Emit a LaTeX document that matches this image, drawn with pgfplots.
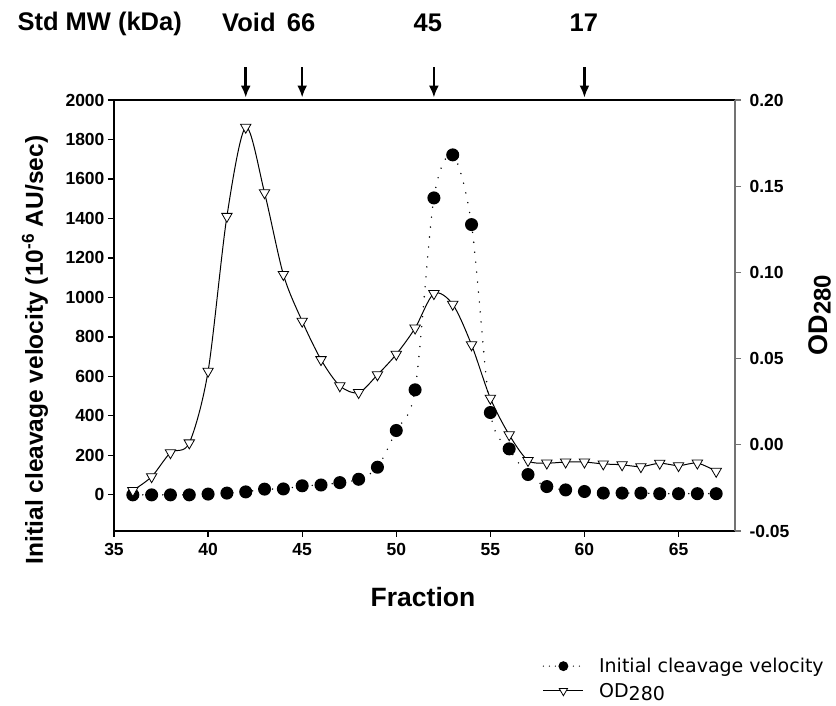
\documentclass[border=0pt]{standalone}
\usepackage{fontspec}
\setmainfont{Liberation Sans}
\newfontfamily\legfont{DejaVu Sans}
\usepackage{pgfplots}
\usepackage{pgfplotstable}
\pgfplotsset{compat=1.18}
\usetikzlibrary{arrows.meta}

% initial cleavage velocity (10^-6 AU/sec), left axis
\pgfplotstableread{
frac vel
36 0
37 0
38 0
39 0
40 4
41 9
42 15
43 29
44 30
45 46
46 50
47 62
48 79
49 140
50 326
51 532
52 1504
53 1722
54 1369
55 417
56 233
57 103
58 42
59 25
60 17
61 9
62 9
63 9
64 6
65 6
66 6
67 6
}\veltable

% OD280, right axis
\pgfplotstableread{
frac od
36 -0.0265
37 -0.0185
38 -0.0046
39 0.0011
40 0.0427
41 0.1325
42 0.1842
43 0.1462
44 0.0988
45 0.0717
46 0.0494
47 0.0342
48 0.0303
49 0.0406
50 0.0525
51 0.0677
52 0.0877
53 0.0815
54 0.0580
55 0.0270
56 0.0058
57 -0.0091
58 -0.0106
59 -0.0100
60 -0.0100
61 -0.0111
62 -0.0116
63 -0.0127
64 -0.0107
65 -0.0121
66 -0.0106
67 -0.0154
}\odtable

\pgfplotsset{
  fig/.style={
    width=621pt, height=431pt, scale only axis,
    at={(114pt,175pt)}, anchor=south west,
    xmin=35, xmax=68,
    tick align=outside, major tick length=6pt,
    ticklabel style={font=\bfseries\fontsize{17.5}{19}\selectfont},
    /pgf/number format/assume math mode=true,
    /pgf/number format/1000 sep={},
  },
}
\tikzset{
  toplab/.style={anchor=base, font=\bfseries\fontsize{25.5}{28}\selectfont},
  mwarrow/.style={line width=2.6pt, -{Latex[length=12pt,width=10pt]}},
}

\begin{document}
\begin{tikzpicture}
\path[use as bounding box] (0,0) rectangle (836pt,706pt);

\begin{axis}[fig,
  axis x line*=box, axis y line*=left,
  xtick={35,40,...,65}, xtick pos=left,
  xticklabel style={yshift=-3pt},
  ymin=-183, ymax=2000, ytick={0,200,...,2000},
  axis line style={line width=1.8pt},
  tick style={line width=1.2pt, black},
  clip=false]
\addplot[black, smooth, tension=0.5, line width=1.6pt, line cap=round,
  dash pattern=on 0pt off 10pt,
  mark=*, mark size=5.7pt, mark options={solid}]
  table[x=frac, y=vel] {\veltable};

\draw[mwarrow] (axis cs:42,2167) -- (axis cs:42,2012);
\draw[mwarrow] (axis cs:45,2167) -- (axis cs:45,2012);
\draw[mwarrow] (axis cs:52,2167) -- (axis cs:52,2012);
\draw[mwarrow] (axis cs:60,2167) -- (axis cs:60,2012);
\node[toplab] at (axis cs:42.17,2349) {Void};
\node[toplab] at (axis cs:44.94,2349) {66};
\node[toplab] at (axis cs:51.68,2349) {45};
\node[toplab] at (axis cs:59.97,2349) {17};
\end{axis}

\begin{axis}[fig,
  axis x line=none, axis y line*=right,
  ymin=-0.05, ymax=0.20,
  ytick={-0.05,0,0.05,0.10,0.15,0.20},
  yticklabels={-0.05,0.00,0.05,0.10,0.15,0.20},
  yticklabel style={xshift=5pt},
  y axis line style={black!55, line width=1.2pt},
  tick style={line width=1.2pt, black!55},
  legend style={draw=none, fill=none, inner sep=0pt, row sep=5pt,
    at={(axis description cs:0.69,-0.29)}, anchor=north west,
    font=\legfont\fontsize{19}{21}\selectfont,
    /tikz/every odd column/.append style={column sep=13pt}},
  legend cell align=left,
  legend image code/.code={\draw[mark repeat=2, mark phase=2, #1]
    plot coordinates {(0pt,0pt) (20pt,0pt) (40pt,0pt)};}]
\addlegendimage{black, line width=1.4pt, line cap=round,
  dash pattern=on 0pt off 6pt, mark=*, mark size=4.2pt, mark options={solid}}
\addlegendentry{Initial cleavage velocity}
\addlegendimage{black, line width=1pt, mark=triangle*, mark size=4.8pt,
  mark options={fill=white, rotate=180, line width=0.8pt}}
\addlegendentry{OD\raisebox{-0.3ex}{280}}
\addplot[black, smooth, tension=0.5, line width=1pt, forget plot,
  mark=triangle*, mark size=6pt,
  mark options={solid, fill=white, rotate=180, line width=0.8pt}]
  table[x=frac, y=od] {\odtable};
\end{axis}

\node[anchor=base west, font=\bfseries\fontsize{25.5}{28}\selectfont] at (14pt,675pt) {Std MW (kDa)};
\node[rotate=90, font=\bfseries\fontsize{24.5}{26}\selectfont] at (35pt,356pt)
  {Initial cleavage velocity (10\textsuperscript{-6} AU/sec)};
\node[rotate=90, font=\bfseries\fontsize{27}{28}\selectfont] at (820pt,391pt)
  {OD\raisebox{-0.2ex}{\fontsize{24}{25}\selectfont 280}};
\node[font=\bfseries\fontsize{26.5}{28}\selectfont] at (423pt,109pt) {Fraction};
\end{tikzpicture}
\end{document}
